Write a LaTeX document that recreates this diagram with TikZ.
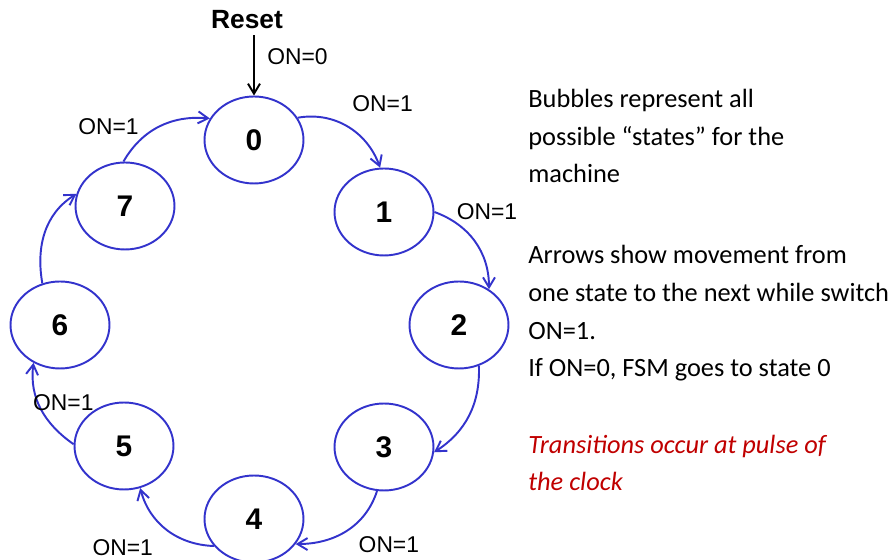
\documentclass[tikz,border=0pt]{standalone}
\usepackage{fontspec}
\setmainfont{Liberation Sans}
\newfontfamily\notefont{Carlito}
\usepackage{tikz}
\usetikzlibrary{shapes.geometric,arrows.meta,positioning}
\definecolor{fsmBlue}{RGB}{51,51,204}
\definecolor{noteRed}{RGB}{192,0,0}
\tikzset{
  stateBubble/.style={
    ellipse,
    draw=fsmBlue,
    line width=1.1pt,
    minimum width=1.98cm,
    minimum height=1.74cm,
    inner sep=0pt,
    font=\fontsize{17}{20}\selectfont\bfseries
  },
  moveArrow/.style={
    -{Straight Barb[length=2mm,width=2.4mm]},
    draw=fsmBlue,
    line width=1.1pt
  },
  onLabel/.style={
    font=\fontsize{13}{15}\selectfont,
    text=black,
    inner sep=2pt
  },
  noteText/.style={
    align=left,
    anchor=base west,
    inner sep=0pt,
    font=\notefont\fontsize{15}{21.5}\selectfont
  }
}

\begin{document}
\begin{tikzpicture}[x=0.02cm,y=0.02cm]
        \useasboundingbox (0,0) rectangle (896,560);

        % the eight states
        \node[stateBubble] (s0) at (254,420) {0};
        \node[stateBubble] (s1) at (384,348) {1};
        \node[stateBubble] (s2) at (459,235) {2};
        \node[stateBubble] (s3) at (384,113) {3};
        \node[stateBubble] (s4) at (254,41) {4};
        \node[stateBubble] (s5) at (124,114) {5};
        \node[stateBubble] (s6) at (60,235) {6};
        \node[stateBubble] (s7) at (125,354) {7};

        \node[font=\fontsize{15}{18}\selectfont\bfseries] (reset) at (247,540) {Reset};
        \draw[-{Straight Barb[length=2mm,width=2.4mm]}, line width=1.1pt] (reset.south -| s0.north) -- node[onLabel, pos=0.35, right, xshift=5pt]{ON=0} (s0.north);

        % transitions
        \draw[moveArrow] (s0.27) to[out=10,in=110] node[onLabel, pos=0.5, above right, yshift=6pt]{ON=1} (s1.95);
        \draw[moveArrow] (s1.east) to[out=-20,in=90] node[onLabel, pos=0.1, anchor=south west, xshift=4.5pt, yshift=-4.5pt]{ON=1} (s2.50);
        \draw[moveArrow] (s2.-64) to[out=-88,in=33] (s3.-6);
        \draw[moveArrow] (s3.-99) to[out=-108,in=0] node[onLabel, pos=0.4, anchor=north west, yshift=-4pt]{ON=1} (s4.-31);
        \draw[moveArrow] (s4.-146) to[out=178,in=-75] node[onLabel, pos=0.4, anchor=north east, xshift=-10pt]{ON=1} (s5.-69);
        \draw[moveArrow] (s5.178) to[out=145,in=-97] node[onLabel, pos=0.5, right, xshift=-7pt, yshift=3.5pt]{ON=1} (s6.-125);
        \draw[moveArrow] (s6.113) to[out=100,in=212] (s7.166);
        \draw[moveArrow] (s7.92) to[out=60,in=175] node[onLabel, pos=0.2, above left, xshift=4pt, yshift=3pt]{ON=1} (s0.154);

        % notes (anchored at the baseline of their last line)
        \node[noteText] (bubbles) at (528,377) {Bubbles represent all\\possible “states” for the\\machine};
        \node[noteText] (arrows) at (528,183) {Arrows show movement from\\one state to the next while switch\\ON=1.\\If ON=0, FSM goes to state 0};
        \node[noteText, text=noteRed, font=\notefont\itshape\fontsize{15}{21.5}\selectfont] (clock) at (528,69) {Transitions occur at pulse of\\the clock};

    \end{tikzpicture}
\end{document}
